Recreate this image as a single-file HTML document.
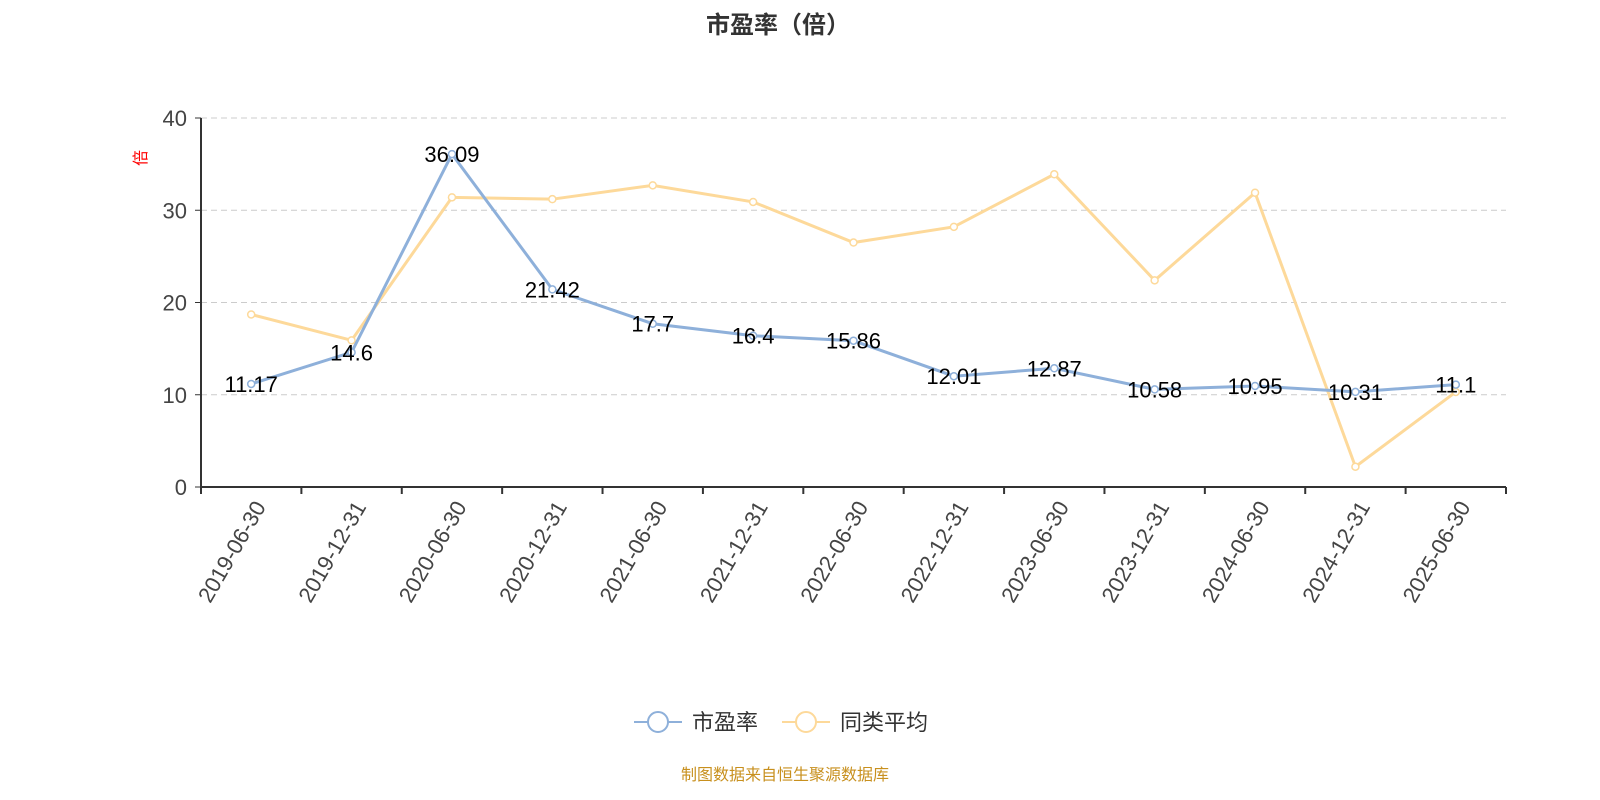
<!DOCTYPE html>
<html><head><meta charset="utf-8"><style>
html,body{margin:0;background:#fff;overflow:hidden;width:1600px;height:800px;font-family:"Liberation Sans","Noto Sans CJK SC",sans-serif}
svg{display:block}
svg text{font-family:"Liberation Sans","Noto Sans CJK SC",sans-serif}
</style></head><body>
<svg id="c" width="1600" height="800" xmlns="http://www.w3.org/2000/svg">
<text x="778" y="33" text-anchor="middle" font-size="24" font-weight="bold" fill="#333">市盈率（倍）</text>
<text transform="translate(146,158) rotate(-90)" text-anchor="middle" font-size="16" fill="#f00">倍</text>
<g id="grid"></g><g id="axes"></g><g id="series"></g>
<g>
<g><line x1="634" y1="722" x2="682" y2="722" stroke="#8eb0da" stroke-width="2"/><circle cx="658" cy="722" r="10" fill="#fff" stroke="#8eb0da" stroke-width="2"/><text x="692" y="730" font-size="22" fill="#333">市盈率</text></g>
<g><line x1="782" y1="722" x2="830" y2="722" stroke="#fdd99a" stroke-width="2"/><circle cx="806" cy="722" r="10" fill="#fff" stroke="#fdd99a" stroke-width="2"/><text x="840" y="730" font-size="22" fill="#333">同类平均</text></g>
</g>
<text x="785" y="780" text-anchor="middle" font-size="16" fill="#c8901e">制图数据来自恒生聚源数据库</text>
</svg>
<script>
const categories=["2019-06-30","2019-12-31","2020-06-30","2020-12-31","2021-06-30","2021-12-31","2022-06-30","2022-12-31","2023-06-30","2023-12-31","2024-06-30","2024-12-31","2025-06-30"];
const peValues=[11.17,14.6,36.09,21.42,17.7,16.4,15.86,12.01,12.87,10.58,10.95,10.31,11.1];
const avgValues=[18.7,15.9,31.4,31.2,32.7,30.9,26.5,28.2,33.9,22.4,31.9,2.2,10.3];
const yTicks=[0,10,20,30,40];
const NS="http://www.w3.org/2000/svg";
const X0=201,X1=1506,Y0=487,Y1=118,YMAX=40;
const bw=(X1-X0)/categories.length;
const xs=i=>X0+bw*(i+0.5);
const ys=v=>Y0-(v/YMAX)*(Y0-Y1);
function mk(p,tag,attrs){const e=document.createElementNS(NS,tag);for(const k in attrs)e.setAttribute(k,attrs[k]);p.appendChild(e);return e;}
const grid=document.getElementById('grid'),axes=document.getElementById('axes'),ser=document.getElementById('series');
yTicks.forEach(t=>{
  if(t>0){const g=mk(grid,'line',{x1:X0,x2:X1,y1:ys(t),y2:ys(t),stroke:'#ccc','stroke-dasharray':'6,4'});
  
  }
  const tl=mk(axes,'line',{x1:X0-6,x2:X0,y1:ys(t),y2:ys(t),stroke:'#333'});
  
  
  const tx=mk(axes,'text',{x:X0-14,y:ys(t)+8,'text-anchor':'end','font-size':'22',fill:'#444'});tx.textContent=t;
  
  
});
const ya=mk(axes,'line',{x1:X0,x2:X0,y1:Y1,y2:Y0,stroke:'#333','stroke-width':2});


const xa=mk(axes,'line',{x1:X0,x2:X1,y1:Y0,y2:Y0,stroke:'#333','stroke-width':2});


for(let i=0;i<=categories.length;i++){
  const t=mk(axes,'line',{x1:X0+bw*i,x2:X0+bw*i,y1:Y0,y2:Y0+7,stroke:'#333','stroke-width':2});
  
  
}
categories.forEach((c,i)=>{
  const x=xs(i)+2,y=Y0+12;
  const t=mk(axes,'text',{x:x,y:y,'text-anchor':'end','font-size':'22',fill:'#444',transform:`rotate(-60 ${x} ${y})`,dy:'0.7em'});t.textContent=c;
  
  
});
function drawSeries(vals,color,name,labels){
  const pl=mk(ser,'polyline',{points:vals.map((v,i)=>xs(i)+','+ys(v)).join(' '),fill:'none',stroke:color,'stroke-width':3});
  
  
  vals.forEach((v,i)=>{
    const p=mk(ser,'circle',{cx:xs(i),cy:ys(v),r:3.5,fill:'#fff',stroke:color,'stroke-width':1.5});
    
    
    if(labels){const t=mk(ser,'text',{x:xs(i),y:ys(v)+8,'text-anchor':'middle','font-size':'22',fill:'#000'});t.textContent=v;
      
      }
  });
}
drawSeries(avgValues,'#fdd99a','avg',false);
drawSeries(peValues,'#8eb0da','pe',true);
</script>
</body></html>
